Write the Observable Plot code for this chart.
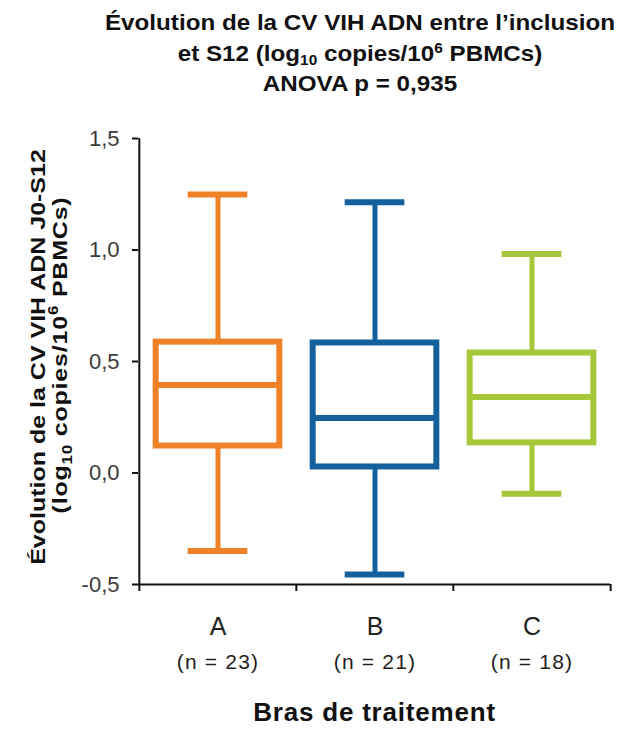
<!DOCTYPE html>
<html>
<head>
<meta charset="utf-8">
<script src="https://cdn.jsdelivr.net/npm/d3@7"></script>
<script src="https://cdn.jsdelivr.net/npm/@observablehq/plot@0.6"></script>
<style>
  body { margin: 0; background: #fff; font-family: "Liberation Sans", Arial, sans-serif; }
  #wrap { position: relative; width: 621px; height: 738px; overflow: hidden; background: #fff; }
  #title { position: absolute; left: 0; top: 0; width: 621px; height: 100px; }
  .tl { position: absolute; left: 360px; transform: translateX(-50%) scaleX(1.1); white-space: nowrap;
        font-weight: bold; font-size: 22px; line-height: 22px; color: #111; }
  .tl sub { font-size: 14px; vertical-align: -4px; line-height: 0; }
  .tl sup { font-size: 14px; vertical-align: 8px; line-height: 0; }
  #chart { position: absolute; left: 0; top: 100px; }
</style>
</head>
<body>
<div id="wrap">
  <div id="title">
    <div class="tl" style="top:12px">Évolution de la CV VIH ADN entre l’inclusion</div>
    <div class="tl" style="top:43px">et S12 (log<sub>10</sub> copies/10<sup>6</sup> PBMCs)</div>
    <div class="tl" style="top:73px">ANOVA p = 0,935</div>
  </div>
  <div id="chart"></div>
</div>
<script>
// ---- data ----
const arms = ["A", "B", "C"];
const nPatients = [23, 21, 18];
const whiskerLow = [-0.350, -0.455, -0.093];
const q1 = [0.121, 0.027, 0.135];
const median = [0.395, 0.247, 0.341];
const q3 = [0.587, 0.583, 0.538];
const whiskerHigh = [1.249, 1.214, 0.982];
const armColors = ["#EF8129", "#13609D", "#A5C739"];
const yTicks = [-0.5, 0, 0.5, 1.0, 1.5];
const xTitle = "Bras de traitement";

const rows = arms.map((arm, i) => ({
  arm, n: nPatients[i], lo: whiskerLow[i], q1: q1[i], med: median[i], q3: q3[i], hi: whiskerHigh[i]
}));
const nByArm = Object.fromEntries(arms.map((a, i) => [a, nPatients[i]]));

// ---- layout ----
const W = 621, H = 638, mL = 138, mR = 11, mT = 38, mB = 154;
const bw = (W - mL - mR) / arms.length;
const boxInset = (bw - 124) / 2;
const capInset = (bw - 60) / 2;
const fmt = d => (d < 0 ? "-" : "") + Math.abs(d).toFixed(1).replace(".", ",");

const svg = Plot.plot({
  width: W, height: H,
  marginLeft: mL, marginRight: mR, marginTop: mT, marginBottom: mB,
  style: { fontFamily: '"Liberation Sans", Arial, sans-serif', background: "white", overflow: "visible" },
  x: { type: "band", domain: arms, padding: 0 },
  y: { domain: [-0.5, 1.5] },
  color: { domain: arms, range: armColors },
  marks: [
    // whiskers
    Plot.ruleX(rows, { x: "arm", y1: "q3", y2: "hi", stroke: "arm", strokeWidth: 5 }),
    Plot.ruleX(rows, { x: "arm", y1: "lo", y2: "q1", stroke: "arm", strokeWidth: 5 }),
    // caps
    Plot.tickY(rows, { x: "arm", y: "hi", stroke: "arm", strokeWidth: 6, insetLeft: capInset, insetRight: capInset }),
    Plot.tickY(rows, { x: "arm", y: "lo", stroke: "arm", strokeWidth: 6, insetLeft: capInset, insetRight: capInset }),
    // boxes
    Plot.barY(rows, { x: "arm", y1: "q1", y2: "q3", fill: "white", stroke: "arm", strokeWidth: 6,
                      insetLeft: boxInset, insetRight: boxInset }),
    // medians
    Plot.tickY(rows, { x: "arm", y: "med", stroke: "arm", strokeWidth: 6, insetLeft: boxInset, insetRight: boxInset }),
    // axis lines
    Plot.ruleY([-0.5], { stroke: "#111", strokeWidth: 2 }),
    Plot.ruleX([arms[0]], { x: d => d, dx: -bw / 2, y1: -0.5, y2: 1.5, stroke: "#111", strokeWidth: 2 }),
    // y axis
    Plot.axisY(yTicks, { tickSize: 6, tickPadding: 13, tickFormat: fmt, fontSize: 22,
                         stroke: "#111", strokeWidth: 2, fill: "#3a3a3a", label: null }),
    // x ticks at band boundaries
    Plot.axisX(arms, { tickSize: 7, dx: -bw / 2, tickFormat: () => "", stroke: "#111", strokeWidth: 2, label: null }),
    Plot.axisX([arms[arms.length - 1]], { tickSize: 7, dx: bw / 2, tickFormat: () => "", stroke: "#111", strokeWidth: 2, label: null }),
    // x labels
    Plot.axisX(arms, { tickSize: 0, tickPadding: 33, tickFormat: d => d, fontSize: 25, fill: "#222", label: null }),
    Plot.axisX(arms, { tickSize: 0, tickPadding: 70, tickFormat: d => `(n = ${nByArm[d]})`, fontSize: 21, fill: "#222", label: null }),
    // x title
    Plot.text([xTitle], { frameAnchor: "bottom", text: d => d, dy: 136, fontSize: 26, fontWeight: "bold", fill: "#111" })
  ]
});

document.getElementById("chart").appendChild(svg);

// y axis title (two lines with sub/superscripts)
const sel = d3.select(svg);
const yMid = (mT + H - mB) / 2;
const g = sel.append("g")
  .attr("font-family", '"Liberation Sans", Arial, sans-serif')
  .attr("font-weight", "bold").attr("font-size", 25).attr("fill", "#111").attr("text-anchor", "middle");
g.append("text")
  .attr("transform", `translate(45,${yMid - 4}) rotate(-90) scale(1,0.84)`)
  .text("Évolution de la CV VIH ADN J0-S12");
const t2 = g.append("text").attr("transform", `translate(67,${yMid - 6}) rotate(-90) scale(1,0.84)`)
  .style("letter-spacing", "0.8px");
t2.append("tspan").text("(log");
t2.append("tspan").attr("font-size", 17).attr("dy", 6).text("10");
t2.append("tspan").attr("dy", -6).text(" copies/10");
t2.append("tspan").attr("font-size", 17).attr("dy", -11).text("6");
t2.append("tspan").attr("dy", 11).text(" PBMCs)");

// slight horizontal widening of x-axis texts to match reference
sel.selectAll("text").filter(function () { return this.textContent.startsWith("(n"); }).style("letter-spacing", "1.2px");
sel.selectAll("text").filter(function () { return this.textContent === xTitle; }).style("letter-spacing", "0.8px");
</script>
</body>
</html>
